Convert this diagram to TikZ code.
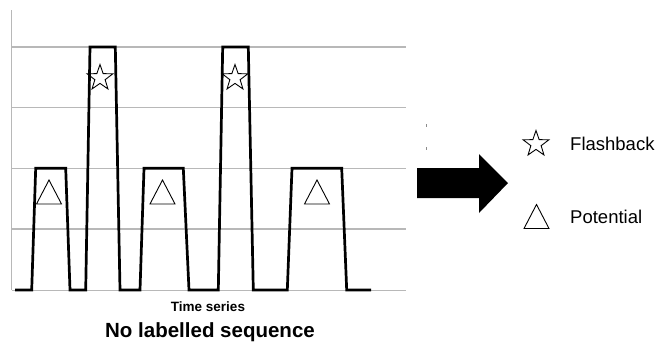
\documentclass[tikz,border=0pt]{standalone}
\usepackage{fontspec}
\setmainfont{Liberation Sans}
\begin{document}
\begin{tikzpicture}[x=1pt,y=-1pt,
  gridline/.style={draw=black!28, line width=1.2pt},
  signal/.style={draw=black, line width=2.7pt, line join=miter, line cap=butt},
  symb/.style={draw=black, line width=0.9pt, line join=miter},
  flashstar/.pic={\draw[symb] (-90:13.5) -- (-54:5.4) -- (-18:13.5) -- (18:5.4) -- (54:13.5)
      -- (90:5.4) -- (126:13.5) -- (162:5.4) -- (198:13.5) -- (234:5.4) -- cycle;},
  potri/.pic={\draw[symb] (-12.5,12) -- (12.5,12) -- (0,-12) -- cycle;},
  legendtext/.style={anchor=base west, inner sep=0pt, font=\fontsize{18.5}{22}\selectfont}
]
\useasboundingbox (0,0) rectangle (656,341);

% chart grid and axis
\foreach \y in {47,107.7,168.3,229,290.3}
  \draw[gridline] (11.7,\y) -- (405.7,\y);
\draw[gridline] (11.7,10) -- (11.7,290.3);

% time series signal
\draw[signal] (15,290) -- (31.7,290) -- (35.7,168.3) -- (65.7,168.3) -- (70,290)
  -- (85.7,290) -- (90,47) -- (115.3,47) -- (120,290)
  -- (140,290) -- (144,168.3) -- (183.3,168.3) -- (189,290)
  -- (218.3,290) -- (222.7,47) -- (248.3,47) -- (253.3,290)
  -- (287.3,290) -- (292,168.3) -- (341.7,168.3) -- (346.7,290) -- (371,290);

% event symbols on the peaks
\pic at (100,78) {flashstar};
\pic at (235,78) {flashstar};
\pic at (49,192) {potri};
\pic at (162.5,192) {potri};
\pic at (317,192) {potri};

% captions
\node[anchor=base, inner sep=0pt, font=\bfseries\fontsize{13.5}{16}\selectfont] (ts) at (208,311.5) {Time series};
\node[anchor=base, inner sep=0pt, font=\bfseries\fontsize{20.5}{24}\selectfont] (nls) at (210,337.5) {No labelled sequence};

% stray tick marks
\fill[black!45] (425.6,123.5) rectangle (426.8,126.5);
\fill[black!45] (425.6,146.5) rectangle (426.8,149.5);

% big arrow
\fill[black] (417,168) -- (479,168) -- (479,154) -- (508,183) -- (479,213)
  -- (479,198) -- (417,198) -- cycle;

% legend
\pic at (536,144) {flashstar};
\pic at (536.5,216.5) {potri};
\node[legendtext] (fb) at (570,150) {Flashback};
\node[legendtext] (pt) at (570,223) {Potential};
\end{tikzpicture}
\end{document}
